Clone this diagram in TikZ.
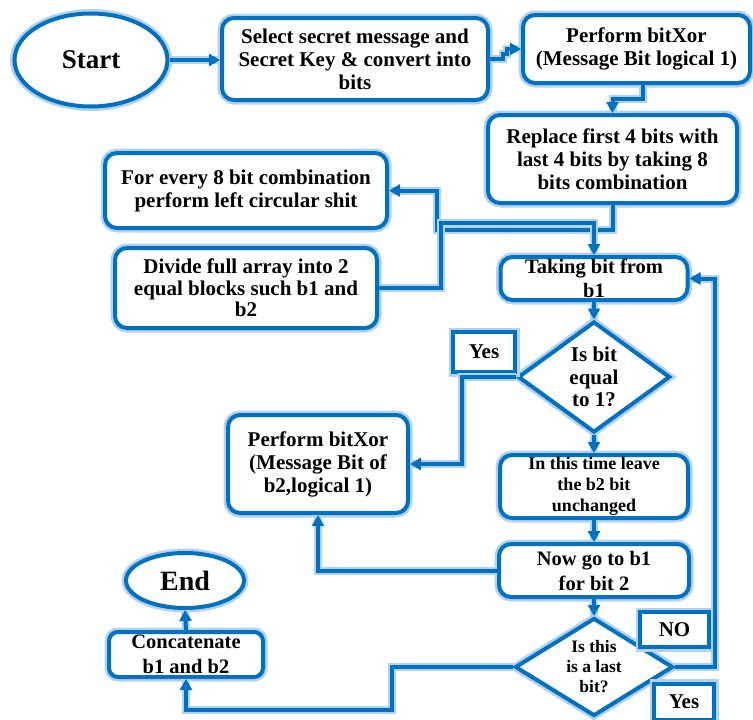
\documentclass[tikz,border=0pt]{standalone}
\usepackage{fontspec}
\setmainfont{Liberation Serif}
\usetikzlibrary{shapes.geometric,arrows.meta}
\definecolor{myblue}{RGB}{0,112,192}
\definecolor{glowc}{RGB}{178,210,242}
\begin{document}
\begin{tikzpicture}[x=1pt,y=-1pt,
  base/.style={draw=myblue, line width=4pt, fill=white, align=center, inner sep=0pt,
    text=black, font=\bfseries\fontsize{21}{23}\selectfont,
    preaction={draw=glowc, line width=9pt}},
  rbox/.style={base, rectangle, rounded corners=12pt},
  lbl/.style={base, rectangle, font=\bfseries\fontsize{21}{23}\selectfont},
  ell/.style={base, ellipse},
  dia/.style={base, diamond},
  dtxt/.style={align=center, inner sep=0pt, text=black},
  conn/.style={draw=myblue, line width=4pt, -{Triangle[length=11pt,width=12pt]},
    preaction={draw=glowc, line width=8pt, -}}
]
\useasboundingbox (0,0) rectangle (753,720);

% nodes
\node[ell, minimum width=153pt, minimum height=93pt, font=\bfseries\fontsize{27}{30}\selectfont] (start) at (91,60) {Start};
\node[rbox, minimum width=266pt, minimum height=82pt] (b1) at (355,59) {Select secret message and\\Secret Key \& convert into\\bits};
\node[rbox, minimum width=227pt, minimum height=68pt] (b2) at (636.5,49) {Perform bitXor\\(Message Bit logical 1)};
\node[rbox, minimum width=249pt, minimum height=88pt] (b3) at (612.5,159) {Replace first 4 bits with\\last 4 bits by taking 8\\bits combination};
\node[rbox, minimum width=282pt, minimum height=75pt] (b4) at (246,190.5) {For every 8 bit combination\\perform left circular shit};
\node[rbox, minimum width=262pt, minimum height=80pt, font=\bfseries\fontsize{21}{21.5}\selectfont] (b5) at (246,288) {Divide full array into 2\\equal blocks such b1 and\\b2};
\node[rbox, minimum width=187pt, minimum height=43pt, font=\bfseries\fontsize{20.5}{24}\selectfont] (b6) at (594,278.5) {Taking bit from\\b1};
\node[dia, minimum width=152pt, minimum height=111pt] (d1) at (594,377) {};
\node[dtxt, font=\bfseries\fontsize{21}{22.5}\selectfont] at (d1) {Is bit\\equal\\to 1?};
\node[lbl, minimum width=62pt, minimum height=40pt] (yes1) at (484,352) {Yes};
\node[rbox, minimum width=180pt, minimum height=98pt] (b7) at (318,464) {Perform bitXor\\(Message Bit of\\b2,logical 1)};
\node[rbox, minimum width=188pt, minimum height=63pt, font=\bfseries\fontsize{18}{21}\selectfont] (b8) at (594,486.5) {In this time leave\\the b2 bit\\unchanged};
\node[rbox, minimum width=190pt, minimum height=53pt, font=\bfseries\fontsize{20.5}{25}\selectfont] (b9) at (594,570.5) {Now go to b1\\for bit 2};
\node[dia, minimum width=158pt, minimum height=98pt] (d2) at (594,667) {};
\node[dtxt, font=\bfseries\fontsize{17.5}{20}\selectfont] at (d2) {Is this\\is a last\\bit?};
\node[lbl, minimum width=69pt, minimum height=35pt] (no) at (674.5,629.5) {NO};
\node[lbl, minimum width=60pt, minimum height=36pt] (yes2) at (684,701.5) {Yes};
\node[rbox, minimum width=154pt, minimum height=45pt, rounded corners=9pt, font=\bfseries\fontsize{20.5}{25}\selectfont] (concat) at (186,654.5) {Concatenate\\b1 and b2};
\node[ell, minimum width=118pt, minimum height=55pt, font=\bfseries\fontsize{28}{30}\selectfont] (end) at (185,580.5) {End};

% helper coordinates
\coordinate (c1) at (437,230);
\coordinate (c2) at (441,223);
\coordinate (c3) at (462,377);
\coordinate (c4) at (715,667);
\coordinate (c5) at (392,710);

% connectors
\draw[conn] (start.east) -- (b1.west |- start.east);
\draw[conn] (b1.east) -- ++(13,0) -- ++(0,-5) -- ++(4,0) |- (b2.west);
\draw[conn] ([xshift=6pt]b2.south) -- ++(0,14) -| (b3.north);
\draw[conn] (b3.south) |- (c1) |- (b4.east);
\draw[conn] (b5.east) -| (c2) -| (b6.north);
\draw[conn] (b6.south) -- (d1.north);
\draw[conn] (d1.west) -- (c3) |- (b7.east);
\draw[conn] (d1.south) -- (b8.north);
\draw[conn] (b8.south) -- (b9.north);
\draw[conn] (b9.west) -| (b7.south);
\draw[conn] (b9.south) -- (d2.north);
\draw[conn] (d2.east) -- (c4) |- (b6.east);
\draw[conn] (d2.west) -| (c5) -| (concat.south);
\draw[conn] (concat.north) -- (end.south);
\end{tikzpicture}
\end{document}
